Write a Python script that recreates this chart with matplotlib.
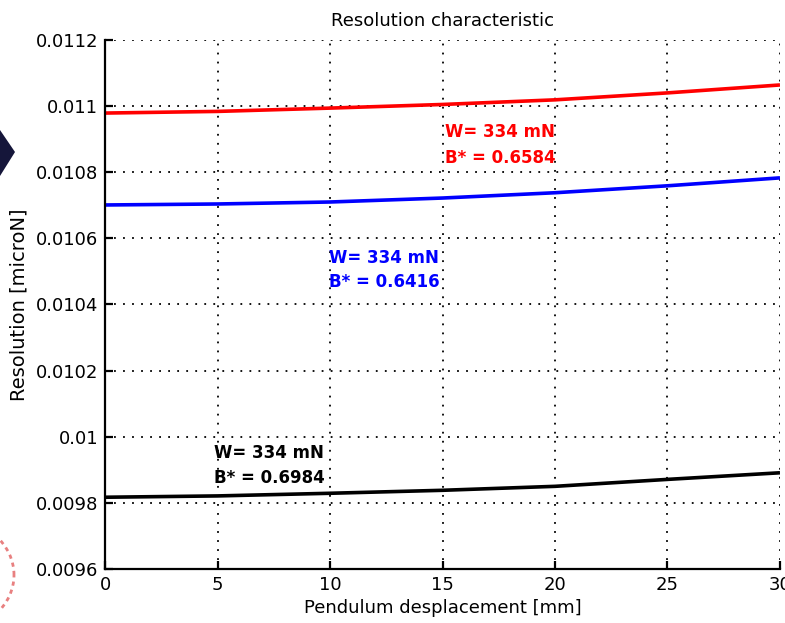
import matplotlib
matplotlib.use("Agg")
import matplotlib.pyplot as plt
from matplotlib.patches import Polygon, Arc

# Pendulum displacement [mm]
displacement = [0, 5, 10, 15, 20, 25, 30]

# Resolution for the three B* configurations (W = 334 mN)
res_b6584 = [0.010979, 0.010984, 0.010994, 0.011005, 0.011019, 0.011040, 0.011064]
res_b6416 = [0.010701, 0.010704, 0.010710, 0.010722, 0.010738, 0.010759, 0.010783]
res_b6984 = [0.009817, 0.009821, 0.009829, 0.009838, 0.009850, 0.009871, 0.009891]

weight_label = "W= 334 mN"
b_labels = ["B* = 0.6584", "B* = 0.6416", "B* = 0.6984"]

x_ticks = [0, 5, 10, 15, 20, 25, 30]
y_ticks = [0.0096, 0.0098, 0.01, 0.0102, 0.0104, 0.0106, 0.0108, 0.011, 0.0112]
y_tick_labels = ["0.0096", "0.0098", "0.01", "0.0102", "0.0104", "0.0106",
                 "0.0108", "0.011", "0.0112"]

plt.rcParams["font.family"] = ["DejaVu Sans"]

fig = plt.figure(figsize=(7.85, 6.23), dpi=100)
ax = fig.add_axes([0.1338, 0.0867, 0.8598, 0.8491])

curves = [
    (res_b6584, "#ff0000", b_labels[0], 15.1, (0.0109066, 0.010828)),
    (res_b6416, "#0000ff", b_labels[1], 9.95, (0.0105255, 0.010453)),
    (res_b6984, "#000000", b_labels[2], 4.85, (0.009936, 0.009860)),
]
for values, color, b_text, tx, (ty1, ty2) in curves:
    ax.plot(displacement, values, color=color, lw=2.6, solid_capstyle="butt")
    ax.text(tx, ty1, weight_label, color=color, fontsize=12, fontweight="bold",
            va="baseline", ha="left")
    ax.text(tx, ty2, b_text, color=color, fontsize=12, fontweight="bold",
            va="baseline", ha="left")

ax.set_xlim(0, 30)
ax.set_ylim(0.0096, 0.0112)
ax.set_xticks(x_ticks)
ax.set_xticklabels([str(t) for t in x_ticks])
ax.set_yticks(y_ticks)
ax.set_yticklabels(y_tick_labels)

ax.grid(True, color="black", linestyle=(0, (1, 4)), linewidth=1.3)
ax.set_axisbelow(True)
for side in ("top", "right"):
    ax.spines[side].set_visible(False)
for side in ("left", "bottom"):
    ax.spines[side].set_linewidth(1.6)
ax.tick_params(direction="in", length=6, width=1.6, labelsize=13,
               top=False, right=False, pad=5)

ax.set_title("Resolution characteristic", fontsize=13, pad=10)
ax.set_xlabel("Pendulum desplacement [mm]", fontsize=13, labelpad=4)
ax.set_ylabel("Resolution [microN]", fontsize=14, labelpad=5)

# Fragments of the neighbouring artwork at the left edge
fig.patches.append(Polygon([[0, 1 - 130 / 623], [15 / 785, 1 - 152 / 623], [0, 1 - 176 / 623]],
                           closed=True, transform=fig.transFigure,
                           facecolor="#15163a", edgecolor="none"))
fig.patches.append(Arc((-50 / 785, 1 - 575 / 623), 128 / 785, 112 / 623,
                       transform=fig.transFigure, color="#e88080",
                       linewidth=2, linestyle=(0, (1.5, 1.5))))

fig.savefig("out.png", dpi=100)
